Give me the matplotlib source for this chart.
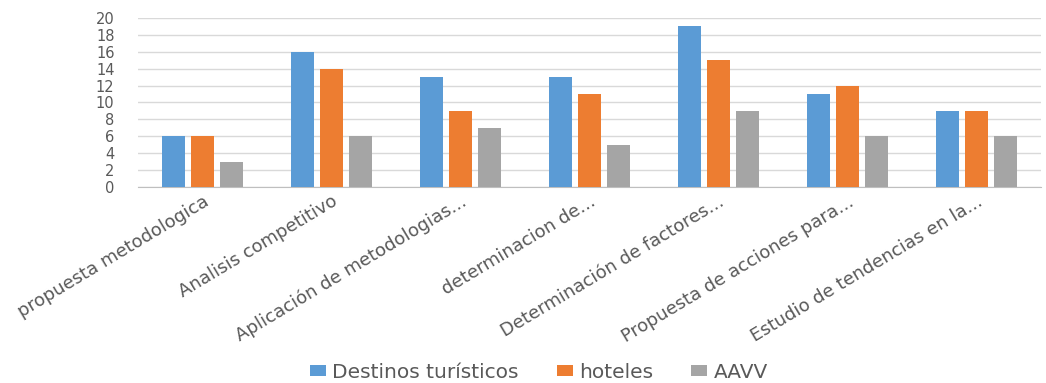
import numpy as np
import matplotlib.pyplot as plt

plt.rcParams['font.family'] = ['DejaVu Sans']

# Datos del grafico
categorias = [
    "propuesta metodologica",
    "Analisis competitivo",
    "Aplicación de metodologias...",
    "determinacion de...",
    "Determinación de factores...",
    "Propuesta de acciones para...",
    "Estudio de tendencias en la...",
]
destinos = [6, 16, 13, 13, 19, 11, 9]
hoteles = [6, 14, 9, 11, 15, 12, 9]
aavv = [3, 6, 7, 5, 9, 6, 6]

series = [
    ("Destinos turísticos", destinos, "#5B9BD5"),
    ("hoteles", hoteles, "#ED7D31"),
    ("AAVV", aavv, "#A5A5A5"),
]

text_color = "#595959"

fig = plt.figure(figsize=(10.46, 3.83), dpi=100)
ax = fig.add_axes([0.132, 0.512, 0.863, 0.441])

x = np.arange(len(categorias))
width = 0.178
step = 0.225
for i, (name, vals, color) in enumerate(series):
    ax.bar(x + (i - 1) * step, vals, width, color=color, label=name, zorder=3)

ax.set_xlim(-0.5, len(categorias) - 0.5)
ax.set_ylim(0, 20)
ax.set_yticks(np.arange(0, 21, 2))
ax.yaxis.grid(True, color="#D9D9D9", linewidth=1, zorder=0)
ax.set_axisbelow(True)

for side in ["left", "right", "top"]:
    ax.spines[side].set_visible(False)
ax.spines["bottom"].set_color("#BFBFBF")

ax.tick_params(axis="y", length=0, pad=17, labelsize=10.5, labelcolor=text_color)
ax.tick_params(axis="x", length=0, pad=4)
ax.set_xticks(x)
ax.set_xticklabels(categorias, rotation=31, ha="right", rotation_mode="anchor",
                   fontsize=13, color=text_color)

fig.legend(loc="center", bbox_to_anchor=(0.515, 0.028), ncol=3,
           frameon=False, fontsize=14.5, handlelength=0.8, handleheight=0.5,
           handletextpad=0.3, columnspacing=1.9, labelcolor=text_color,
           borderpad=0)

fig.savefig("out.png", dpi=100)
